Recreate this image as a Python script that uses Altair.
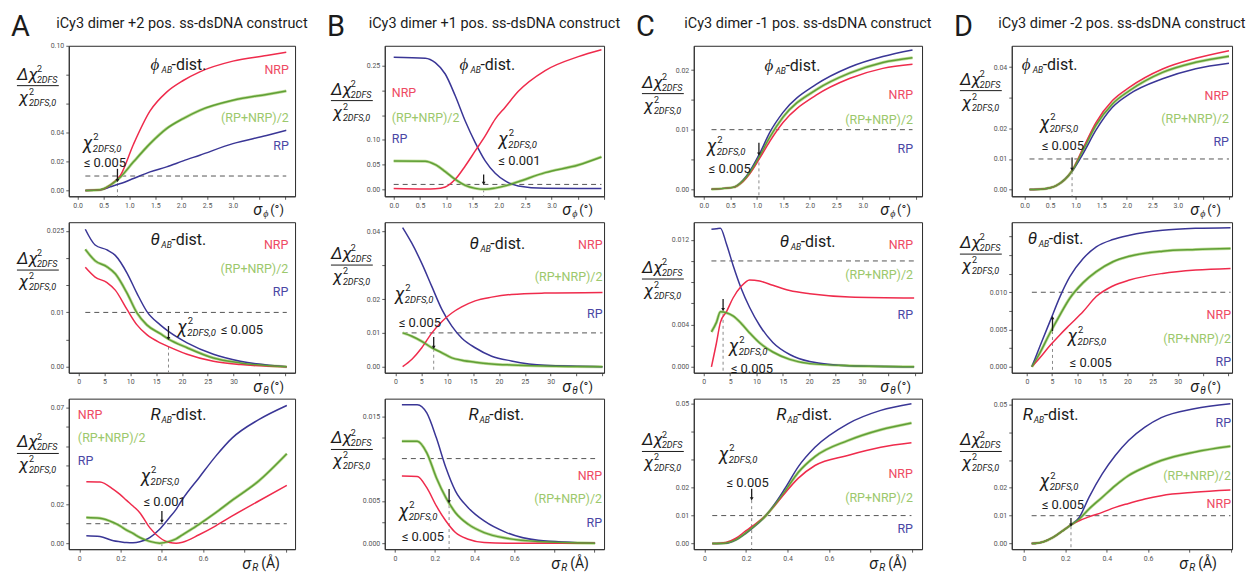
import altair as alt
import pandas as pd

FONT = "Roboto"
INK = "#1b1b1b"
LINE_COL = {"RP": "#3a3696", "NRP": "#ef2b4c", "AVG": "#5f9f36"}
LABEL_COL = {"NRP": "#ee4a63", "AVG": "#9cc86c", "RP": "#4a47a4"}
LABEL_TEXT = {"NRP": "NRP", "AVG": "(RP+NRP)/2", "RP": "RP"}

# ---------------- column A : +2 position ----------------
A_PHI_X = [0.15, 0.44, 0.63, 0.83, 1.08, 1.40, 1.72, 2.04, 2.36, 3.00, 3.65, 4.03]
A_PHI_NRP = [0.0, 0.0005, 0.0037, 0.0106, 0.032, 0.055, 0.068, 0.076, 0.082, 0.0894, 0.0933, 0.0956]
A_PHI_AVG = [0.0, 0.0005, 0.0037, 0.0094, 0.0198, 0.0324, 0.0428, 0.0497, 0.0554, 0.0623, 0.0664, 0.0687]
A_PHI_RP = [0.0, 0.0005, 0.0025, 0.0048, 0.0083, 0.0129, 0.0163, 0.0205, 0.0244, 0.0324, 0.038, 0.0416]

A_TH_X = [1.3, 3.2, 5.5, 7.1, 9.4, 11.3, 13.2, 15.8, 17.4, 21.0, 26.1, 31.3, 40.3]
A_TH_RP = [0.0253, 0.0224, 0.0215, 0.0205, 0.0172, 0.0135, 0.0102, 0.0077, 0.0065, 0.0044, 0.0023, 0.001, 0.0]
A_TH_AVG = [0.0216, 0.0195, 0.0184, 0.0171, 0.0135, 0.0099, 0.0077, 0.0061, 0.0051, 0.0035, 0.0016, 0.0007, 0.0]
A_TH_NRP = [0.0183, 0.0165, 0.0155, 0.0141, 0.0105, 0.0077, 0.0059, 0.0044, 0.0037, 0.0023, 0.001, 0.0004, 0.0]

A_R_X = [0.034, 0.1, 0.165, 0.197, 0.229, 0.26, 0.293, 0.341, 0.389, 0.437, 0.469, 0.5, 0.58, 0.661, 0.741, 0.869, 1.005]
A_R_NRP = [0.0316, 0.0315, 0.0277, 0.0251, 0.022, 0.0191, 0.0157, 0.008, 0.0029, 0.0003, 0.0, 0.0005, 0.0043, 0.0089, 0.014, 0.0217, 0.0297]
A_R_AVG = [0.0132, 0.0128, 0.0106, 0.0089, 0.0067, 0.005, 0.0029, 0.0009, 0.0, 0.0009, 0.0022, 0.0043, 0.0097, 0.0157, 0.0221, 0.032, 0.046]
A_R_RP = [0.0038, 0.0034, 0.0012, 0.0007, 0.0003, 0.0002, 0.0007, 0.0029, 0.0072, 0.0132, 0.0174, 0.0226, 0.0337, 0.0448, 0.0542, 0.0636, 0.0709]

# ---------------- column B : +1 position ----------------
B_PHI_X = [0.0, 0.60, 0.79, 0.98, 1.17, 1.36, 1.55, 1.74, 1.93, 2.12, 2.37, 2.88, 3.51, 3.95]
B_PHI_RP = [0.267, 0.265, 0.256, 0.233, 0.189, 0.138, 0.0945, 0.0575, 0.0324, 0.017, 0.0069, 0.002, 0.0015, 0.0015]
B_PHI_NRP = [0.0015, 0.0005, 0.001, 0.0047, 0.0202, 0.0472, 0.0776, 0.108, 0.142, 0.166, 0.198, 0.240, 0.268, 0.282]
B_PHI_AVG = [0.0574, 0.057, 0.050, 0.036, 0.020, 0.008, 0.002, 0.0, 0.0025, 0.007, 0.0155, 0.0338, 0.0493, 0.0655]

B_TH_X = [1.4, 3.2, 5.1, 7.05, 9.0, 10.9, 12.8, 15.4, 18.6, 22.4, 28.8, 40.0]
B_TH_RP = [0.0412, 0.0365, 0.0306, 0.0237, 0.0169, 0.012, 0.0085, 0.0056, 0.0031, 0.0017, 0.0004, 0.0]
B_TH_NRP = [0.0, 0.0022, 0.0056, 0.0100, 0.0134, 0.0159, 0.0177, 0.0195, 0.0206, 0.0214, 0.0218, 0.022]
B_TH_AVG = [0.0100, 0.0090, 0.0075, 0.0056, 0.0041, 0.0026, 0.0019, 0.0013, 0.0008, 0.0005, 0.0002, 0.0]

B_R_X = [0.035, 0.112, 0.16, 0.208, 0.256, 0.304, 0.368, 0.448, 0.56, 0.72, 1.005]
B_R_RP = [0.01637, 0.01637, 0.01539, 0.01245, 0.00891, 0.00616, 0.0042, 0.00263, 0.00126, 0.00035, 0.0]
B_R_AVG = [0.01205, 0.01205, 0.01068, 0.00774, 0.00538, 0.00361, 0.00224, 0.00126, 0.00059, 0.0002, 0.0]
B_R_NRP = [0.00793, 0.00789, 0.00656, 0.0044, 0.00263, 0.00126, 0.00047, 0.00008, 0.0, 0.0, 0.0]

# ---------------- column C : -1 position ----------------
C_PHI_X = [0.145, 0.553, 0.74, 0.867, 1.055, 1.243, 1.495, 2.12, 2.75, 3.38, 3.94]
C_PHI_RP = [0.0, 0.0003, 0.0015, 0.003, 0.006, 0.0095, 0.0129, 0.0176, 0.0205, 0.0223, 0.0234]
C_PHI_AVG = [0.0, 0.0003, 0.0014, 0.0028, 0.0056, 0.0087, 0.0121, 0.0167, 0.0195, 0.0213, 0.0221]
C_PHI_NRP = [0.0, 0.0003, 0.0013, 0.0026, 0.0052, 0.008, 0.0112, 0.0158, 0.0186, 0.0203, 0.0210]

C_TH_X = [1.45, 2.4, 3.15, 4.3, 5.55, 7.1, 8.7, 10.6, 13.1, 16.3, 20.1, 27.6, 39.9]
C_TH_RP = [0.0130, 0.01305, 0.0131, 0.0116, 0.0096, 0.0074, 0.0056, 0.0039, 0.0023, 0.00116, 0.0005, 0.0001, 0.0]
C_TH_NRP = [0.0, 0.00225, 0.0042, 0.0052, 0.0065, 0.0076, 0.0082, 0.0081, 0.0077, 0.0072, 0.0069, 0.0066, 0.0065]
C_TH_AVG = [0.0033, 0.0042, 0.0052, 0.0051, 0.0048, 0.0041, 0.0032, 0.00225, 0.0014, 0.0007, 0.0003, 0.0001, 0.0]

C_R_X = [0.037, 0.103, 0.151, 0.198, 0.23, 0.294, 0.341, 0.389, 0.452, 0.532, 0.69, 0.849, 0.997]
C_R_RP = [0.0, 0.0001, 0.0013, 0.0036, 0.0055, 0.0099, 0.0144, 0.0199, 0.0275, 0.0344, 0.0428, 0.0476, 0.05]
C_R_AVG = [0.0, 0.0002, 0.0014, 0.0038, 0.0057, 0.0099, 0.0141, 0.0189, 0.0255, 0.0311, 0.0368, 0.0407, 0.0431]
C_R_NRP = [0.0, 0.0004, 0.0019, 0.0045, 0.0062, 0.0099, 0.0139, 0.0182, 0.0234, 0.0279, 0.0315, 0.0344, 0.036]

# ---------------- column D : -2 position ----------------
D_PHI_X = [0.097, 0.36, 0.62, 0.93, 1.14, 1.40, 1.72, 2.05, 2.70, 3.35, 4.0]
D_PHI_NRP = [0.0, 0.0002, 0.0013, 0.0062, 0.0133, 0.022, 0.0291, 0.0334, 0.0394, 0.0429, 0.0454]
D_PHI_AVG = [0.0, 0.0002, 0.0013, 0.0061, 0.0127, 0.0211, 0.028, 0.0323, 0.0383, 0.0416, 0.0436]
D_PHI_RP = [0.0, 0.0002, 0.0013, 0.006, 0.0116, 0.0195, 0.0269, 0.0312, 0.0362, 0.0395, 0.0413]

D_TH_X = [1.0, 2.6, 4.6, 6.6, 8.55, 11.2, 13.8, 17.1, 20.4, 27.0, 33.6, 40.5]
D_TH_RP = [0.0, 0.00276, 0.00609, 0.00942, 0.01209, 0.01453, 0.01609, 0.01707, 0.01764, 0.01831, 0.01858, 0.01867]
D_TH_AVG = [0.0, 0.00187, 0.00453, 0.00698, 0.0092, 0.01129, 0.01276, 0.01409, 0.01484, 0.01551, 0.01573, 0.01587]
D_TH_NRP = [0.0, 0.0012, 0.00284, 0.00431, 0.00564, 0.00742, 0.00942, 0.01084, 0.01164, 0.01253, 0.01298, 0.0132]

D_R_X = [0.037, 0.092, 0.14, 0.187, 0.227, 0.267, 0.314, 0.378, 0.441, 0.505, 0.584, 0.663, 0.822, 0.997]
D_R_RP = [0.0, 0.0006, 0.0022, 0.0046, 0.0067, 0.0094, 0.0166, 0.025, 0.0316, 0.037, 0.0418, 0.0452, 0.0484, 0.0502]
D_R_AVG = [0.0, 0.0006, 0.0022, 0.0046, 0.0067, 0.0088, 0.0124, 0.0166, 0.0208, 0.0244, 0.0274, 0.0298, 0.0328, 0.0349]
D_R_NRP = [0.0, 0.0006, 0.0022, 0.0046, 0.0067, 0.0082, 0.0096, 0.0112, 0.013, 0.0144, 0.016, 0.0172, 0.0184, 0.0192]

# ---------------- headers and ticks ----------------
LETTERS = ["A", "B", "C", "D"]
HEADERS = [
    "iCy3 dimer +2 pos. ss-dsDNA construct",
    "iCy3 dimer +1 pos. ss-dsDNA construct",
    "iCy3 dimer -1 pos. ss-dsDNA construct",
    "iCy3 dimer -2 pos. ss-dsDNA construct",
]
THRESHOLD = 0.01

PHI_XTICKS = [0, 0.5, 1, 1.5, 2, 2.5, 3, 3.5, 4]
PHI_XLABELS = {0: "0.0", 0.5: "0.5", 1: "1.0", 1.5: "1.5", 2: "2.0", 2.5: "2.5", 3: "3.0"}
TH_XTICKS = [0, 5, 10, 15, 20, 25, 30, 35, 40]
TH_XLABELS = {0: "0", 5: "5", 10: "10", 15: "15", 20: "20", 25: "25", 30: "30"}
R_XTICKS = [0, 0.2, 0.4, 0.6, 0.8, 1.0]
R_XLABELS = {0: "0", 0.2: "0.2", 0.4: "0.4", 0.6: "0.6"}

WIDTHS = [227, 220, 229, 221]
HEIGHT = 151

PHI = dict(sym="ϕ", unit="(°)", xticks=PHI_XTICKS, xlabels=PHI_XLABELS)
TH = dict(sym="θ", unit="(°)", xticks=TH_XTICKS, xlabels=TH_XLABELS)
RR = dict(sym="R", unit="(Å)", xticks=R_XTICKS, xlabels=R_XLABELS)

PANELS = [
    # row 1: phi
    dict(PHI, x=A_PHI_X, rp=A_PHI_RP, nrp=A_PHI_NRP, avg=A_PHI_AVG,
         xdom=[-0.17, 4.2], ydom=[-0.004, 0.1],
         yticks=[0, 0.02, 0.04, 0.06, 0.08, 0.1], ylabels={0: "0.00", 0.02: "0.02", 0.04: "0.04", 0.1: "0.10"},
         title=(1.41, 0.0869), lab_align="right", lab_x=4.08, lab_y=(0.0835, 0.0504, 0.0304),
         chi=(0.10, 0.031), le=(0.12, 0.0215, "≤ 0.005"),
         thr=0.77, arrow=(0.015, 0.0068), drop=0.005, frac=(-31, 40)),
    dict(PHI, x=B_PHI_X, rp=B_PHI_RP, nrp=B_PHI_NRP, avg=B_PHI_AVG,
         xdom=[-0.17, 4.0], ydom=[-0.014, 0.29],
         yticks=[0, 0.05, 0.1, 0.15, 0.2, 0.25], ylabels={0: "0.00", 0.05: "0.05", 0.1: "0.10", 0.25: "0.25"},
         title=(1.25, 0.2517), lab_align="left", lab_x=-0.037, lab_y=(0.195, 0.145, 0.1008),
         chi=(1.99, 0.0947), le=(1.99, 0.0645, "≤ 0.001"),
         thr=1.71, arrow=(0.03, 0.012), drop=0.0, frac=(-33, 55)),
    dict(PHI, x=C_PHI_X, rp=C_PHI_RP, nrp=C_PHI_NRP, avg=C_PHI_AVG,
         xdom=[-0.19, 4.12], ydom=[-0.0012, 0.0241],
         yticks=[0, 0.005, 0.01, 0.015, 0.02], ylabels={0: "0.00", 0.01: "0.01", 0.02: "0.02"},
         title=(1.146, 0.0207), lab_align="right", lab_x=3.95, lab_y=(0.0159, 0.0117, 0.0067),
         chi=(0.055, 0.0067), le=(0.09, 0.004, "≤ 0.005"),
         thr=1.04, arrow=(0.0078, 0.0059), drop=0.0055, frac=(-31, 48)),
    dict(PHI, x=D_PHI_X, rp=D_PHI_RP, nrp=D_PHI_NRP, avg=D_PHI_AVG,
         xdom=[-0.25, 4.06], ydom=[-0.0022, 0.047],
         yticks=[0, 0.01, 0.02, 0.03, 0.04], ylabels={0: "0.00", 0.01: "0.01", 0.02: "0.02", 0.04: "0.04"},
         title=(-0.055, 0.0408), lab_align="right", lab_x=4.0, lab_y=(0.0307, 0.0229, 0.0154),
         chi=(0.296, 0.0209), le=(0.335, 0.0154, "≤ 0.005"),
         thr=0.93, arrow=(0.0105, 0.0066), drop=0.006, frac=(-31, 45)),
    # row 2: theta
    dict(TH, x=A_TH_X, rp=A_TH_RP, nrp=A_TH_NRP, avg=A_TH_AVG,
         xdom=[-1.9, 41.9], ydom=[-0.0011, 0.0266],
         yticks=[0, 0.005, 0.01, 0.015, 0.02, 0.025], ylabels={0: "0.00", 0.01: "0.01", 0.025: "0.025"},
         title=(13.9, 0.0233), lab_align="right", lab_x=40.6, lab_y=(0.0224, 0.018, 0.0138),
         chi=(19.1, 0.0068), le=(27.5, 0.0068, "≤ 0.005"),
         thr=17.4, arrow=(0.0075, 0.0052), drop=0.0037, frac=(-31, 48)),
    dict(TH, x=B_TH_X, rp=B_TH_RP, nrp=B_TH_NRP, avg=B_TH_AVG,
         xdom=[-2.05, 40.3], ydom=[-0.0018, 0.0428],
         yticks=[0, 0.01, 0.02, 0.03, 0.04], ylabels={0: "0.00", 0.01: "0.01", 0.02: "0.02", 0.04: "0.04"},
         title=(14.3, 0.0363), lab_align="right", lab_x=40.0, lab_y=(0.036, 0.0266, 0.0156),
         chi=(-0.12, 0.0206), le=(0.65, 0.0141, "≤ 0.005"),
         thr=7.4, arrow=(0.0088, 0.0057), drop=0.0053, frac=(-33, 43)),
    dict(TH, x=C_TH_X, rp=C_TH_RP, nrp=C_TH_NRP, avg=C_TH_AVG,
         xdom=[-1.9, 41.4], ydom=[-0.00056, 0.01366],
         yticks=[0, 0.002, 0.004, 0.006, 0.008, 0.01, 0.012], ylabels={0: "0.000", 0.004: "0.004", 0.012: "0.012"},
         title=(14.4, 0.01178), lab_align="right", lab_x=39.7, lab_y=(0.01149, 0.00867, 0.0049),
         chi=(4.72, 0.0017), le=(5.1, 0.00019, "≤ 0.005"),
         thr=3.66, arrow=(0.0064, 0.0054), drop=0.005, frac=(-31, 57)),
    dict(TH, x=D_TH_X, rp=D_TH_RP, nrp=D_TH_NRP, avg=D_TH_AVG,
         xdom=[-3.0, 40.8], ydom=[-0.0008, 0.0194],
         yticks=[0, 0.0025, 0.005, 0.0075, 0.01, 0.0125, 0.015, 0.0175], ylabels={0: "0.000", 0.005: "0.005", 0.01: "0.010"},
         title=(0.17, 0.0171), lab_align="right", lab_x=40.6, lab_y=(0.00696, 0.00375, 0.00067),
         chi=(8.1, 0.00375), le=(8.5, 0.00107, "≤ 0.005"),
         thr=5.1, arrow=(0.0048, 0.0066), drop=0.0048, frac=(-31, 32)),
    # row 3: R
    dict(RR, x=A_R_X, rp=A_R_RP, nrp=A_R_NRP, avg=A_R_AVG,
         xdom=[-0.051, 1.045], ydom=[-0.0031, 0.0744],
         yticks=[0, 0.01, 0.02, 0.03, 0.04, 0.05, 0.06, 0.07], ylabels={0: "0.00", 0.02: "0.02", 0.07: "0.07"},
         title=(0.345, 0.0662), lab_align="left", lab_x=-0.007, lab_y=(0.0662, 0.0539, 0.0421),
         chi=(0.297, 0.0328), le=(0.311, 0.0231, "≤ 0.001"),
         thr=0.4, arrow=(0.0165, 0.0112), drop=0.0, frac=(-31, 55)),
    dict(RR, x=B_R_X, rp=B_R_RP, nrp=B_R_NRP, avg=B_R_AVG,
         xdom=[-0.051, 1.05], ydom=[-0.0007, 0.01708],
         yticks=[0, 0.0025, 0.005, 0.0075, 0.01, 0.0125, 0.015], ylabels={0: "0.000", 0.005: "0.005", 0.015: "0.015"},
         title=(0.369, 0.0152), lab_align="right", lab_x=1.04, lab_y=(0.0079, 0.0052, 0.00237),
         chi=(0.019, 0.0035), le=(0.034, 0.00119, "≤ 0.005"),
         thr=0.272, arrow=(0.0064, 0.0049), drop=0.0045, frac=(-33, 51)),
    dict(RR, x=C_R_X, rp=C_R_RP, nrp=C_R_NRP, avg=C_R_AVG,
         xdom=[-0.052, 1.048], ydom=[-0.002, 0.0518],
         yticks=[0, 0.01, 0.02, 0.03, 0.04, 0.05], ylabels={0: "0.00", 0.01: "0.01", 0.02: "0.02", 0.05: "0.05"},
         title=(0.346, 0.0461), lab_align="right", lab_x=1.004, lab_y=(0.0247, 0.0162, 0.0051),
         chi=(0.068, 0.0311), le=(0.106, 0.023, "≤ 0.005"),
         thr=0.227, arrow=(0.0196, 0.016), drop=0.0155, frac=(-31, 53)),
    dict(RR, x=D_R_X, rp=D_R_RP, nrp=D_R_NRP, avg=D_R_AVG,
         xdom=[-0.059, 1.005], ydom=[-0.002, 0.052],
         yticks=[0, 0.01, 0.02, 0.03, 0.04, 0.05], ylabels={0: "0.00", 0.01: "0.01", 0.02: "0.02", 0.05: "0.05"},
         title=(-0.006, 0.0463), lab_align="right", lab_x=1.0, lab_y=(0.0141, 0.0241, 0.0431),
         chi=(0.076, 0.0212), le=(0.086, 0.0152, "≤ 0.005"),
         thr=0.227, arrow=(0.0092, 0.0066), drop=0.0062, frac=(-31, 53)),
]

ONE = pd.DataFrame({"k": [0]})


def label_expr(labels):
    expr = "''"
    for v, t in labels.items():
        expr = f"datum.value == {v!r} ? '{t}' : {expr}"
    return expr


def ptext(px, py, text, size, italic=False, align="left", color=INK):
    """Text placed in pixels relative to the panel's plot area."""
    return alt.Chart(ONE).mark_text(
        text=text, fontSize=size, fontStyle="italic" if italic else "normal",
        align=align, baseline="middle", color=color, font=FONT,
    ).encode(x=alt.value(px), y=alt.value(py))


def build_panel(i, p):
    col, row = i % 4, i // 4
    W, H = WIDTHS[col], HEIGHT
    xsc = alt.Scale(domain=p["xdom"], nice=False, zero=False)
    ysc = alt.Scale(domain=p["ydom"], nice=False, zero=False)
    xax = alt.Axis(values=p["xticks"], labelExpr=label_expr(p["xlabels"]), title=None)
    yax = alt.Axis(values=p["yticks"], labelExpr=label_expr(p["ylabels"]), title=None)

    def X(f="x"):
        return alt.X(f"{f}:Q", scale=xsc, axis=xax)

    def Y(f="y"):
        return alt.Y(f"{f}:Q", scale=ysc, axis=yax)

    def dtext(x, y, text, size, italic=False, dx=0, dy=0, align="left", color=INK):
        return alt.Chart(pd.DataFrame({"x": [x], "y": [y]})).mark_text(
            text=text, fontSize=size, fontStyle="italic" if italic else "normal",
            align=align, baseline="middle", color=color, font=FONT, dx=dx, dy=dy,
        ).encode(x=X(), y=Y())

    rows = []
    for key, vals in (("RP", p["rp"]), ("NRP", p["nrp"]), ("AVG", p["avg"])):
        for xv, yv in zip(p["x"], vals):
            rows.append({"x": xv, "y": yv, "s": key})
    df = pd.DataFrame(rows)

    layers = []
    # dashed 0.01 reference line
    layers.append(
        alt.Chart(pd.DataFrame({"x": [min(p["x"])], "x2": [max(p["x"])], "y": [THRESHOLD]}))
        .mark_rule(strokeDash=[5, 4], color="#555", strokeWidth=1)
        .encode(x=X(), x2="x2:Q", y=Y())
    )
    # dashed drop line at the threshold position
    layers.append(
        alt.Chart(pd.DataFrame({"x": [p["thr"]], "y": [p["drop"]], "y2": [p["ydom"][0]]}))
        .mark_rule(strokeDash=[3, 3], color="#8a8a8a", strokeWidth=1)
        .encode(x=X(), y=Y(), y2="y2:Q")
    )
    # curves: light halo under the average curve, then the three series
    layers.append(
        alt.Chart(df[df["s"] == "AVG"]).mark_line(interpolate="monotone", strokeWidth=3.0, color="#bfdc98")
        .encode(x=X(), y=Y())
    )
    layers.append(
        alt.Chart(df).mark_line(interpolate="monotone", strokeWidth=1.5)
        .encode(
            x=X(), y=Y(),
            color=alt.Color("s:N", scale=alt.Scale(domain=list(LINE_COL), range=list(LINE_COL.values())), legend=None),
        )
    )
    # arrow marking the threshold
    a0, a1 = p["arrow"]
    layers.append(
        alt.Chart(pd.DataFrame({"x": [p["thr"]], "y": [a0], "y2": [a1]}))
        .mark_rule(color=INK, strokeWidth=1.3)
        .encode(x=X(), y=Y(), y2="y2:Q")
    )
    layers.append(
        alt.Chart(pd.DataFrame({"x": [p["thr"]], "y": [a1]}))
        .mark_point(shape="triangle-down" if a1 < a0 else "triangle-up", size=14, filled=True, color=INK, opacity=1)
        .encode(x=X(), y=Y())
    )
    # series labels
    lab = pd.DataFrame({
        "x": [p["lab_x"]] * 3,
        "y": list(p["lab_y"]),
        "t": [LABEL_TEXT[k] for k in ("NRP", "AVG", "RP")],
        "c": [LABEL_COL[k] for k in ("NRP", "AVG", "RP")],
    })
    layers.append(
        alt.Chart(lab).mark_text(align=p["lab_align"], baseline="middle", fontSize=12.5, font=FONT)
        .encode(x=X(), y=Y(), text="t:N", color=alt.Color("c:N", scale=None))
    )
    # panel title, e.g. "phi_AB-dist."
    tx, ty = p["title"]
    layers += [
        dtext(tx, ty, p["sym"], 17, italic=True),
        dtext(tx, ty, "AB", 8.5, italic=True, dx=11, dy=5),
        dtext(tx, ty, "-dist.", 16, dx=21),
    ]
    # chi-squared threshold annotation
    cx, cy = p["chi"]
    lx, ly, ltxt = p["le"]
    inline = ly == cy
    layers += [
        dtext(cx, cy, "χ", 18, italic=True, dy=-2),
        dtext(cx, cy, "2", 9.5, dx=10.5, dy=-9),
        dtext(cx, cy, "2DFS,0", 9.5, italic=True, dx=10, dy=3),
        dtext(lx, ly, ltxt, 13, dy=0 if inline else 4),
    ]
    # y-axis quantity written as a fraction
    fx, fy = p["frac"]
    layers += [
        ptext(fx - 21, fy - 11, "Δχ", 17, italic=True),
        ptext(fx - 1, fy - 17, "2", 9),
        ptext(fx - 1, fy - 6, "2DFS", 9, italic=True),
        alt.Chart(ONE).mark_rule(color=INK, strokeWidth=1).encode(
            x=alt.value(fx - 21), x2=alt.value(fx + 21), y=alt.value(fy)),
        ptext(fx - 19, fy + 12, "χ", 17, italic=True),
        ptext(fx - 9, fy + 6, "2", 9),
        ptext(fx - 9, fy + 17, "2DFS,0", 9, italic=True),
    ]
    # x-axis quantity at the lower right
    if p["sym"] == "R":
        layers += [
            ptext(W - 53, H + 15, "σ", 16, italic=True),
            ptext(W - 43, H + 19, "R", 10, italic=True),
            ptext(W - 34, H + 15, p["unit"], 14),
        ]
    else:
        layers += [
            ptext(W - 42, H + 14, "σ", 16, italic=True),
            ptext(W - 32, H + 18, p["sym"], 10, italic=True),
            ptext(W - 25, H + 14, p["unit"], 13),
        ]
    # column header on the first row
    if row == 0:
        layers += [
            ptext(-58, -19, LETTERS[col], 29),
            ptext(W / 2, -22, HEADERS[col], 14.5, align="center"),
        ]
    return alt.layer(*layers).properties(width=W, height=H)


charts = [build_panel(i, p) for i, p in enumerate(PANELS)]

chart = (
    alt.concat(*charts, columns=4, spacing={"row": 26, "column": 90}, bounds="flush", align="each")
    .properties(padding={"left": 10, "top": 11, "right": 0, "bottom": 0}, background="white")
    .configure_view(stroke="#2a2a2a", strokeWidth=1)
    .configure_axis(
        labelFont=FONT, labelFontSize=7, labelColor="#555", tickColor="#333", tickSize=3,
        tickWidth=0.8, domainColor="#333", domainWidth=1, labelPadding=2, grid=False,
        labelOverlap=False, labelFlush=False,
    )
)

chart.save("out.html", embed_options={"renderer": "svg", "actions": False})
